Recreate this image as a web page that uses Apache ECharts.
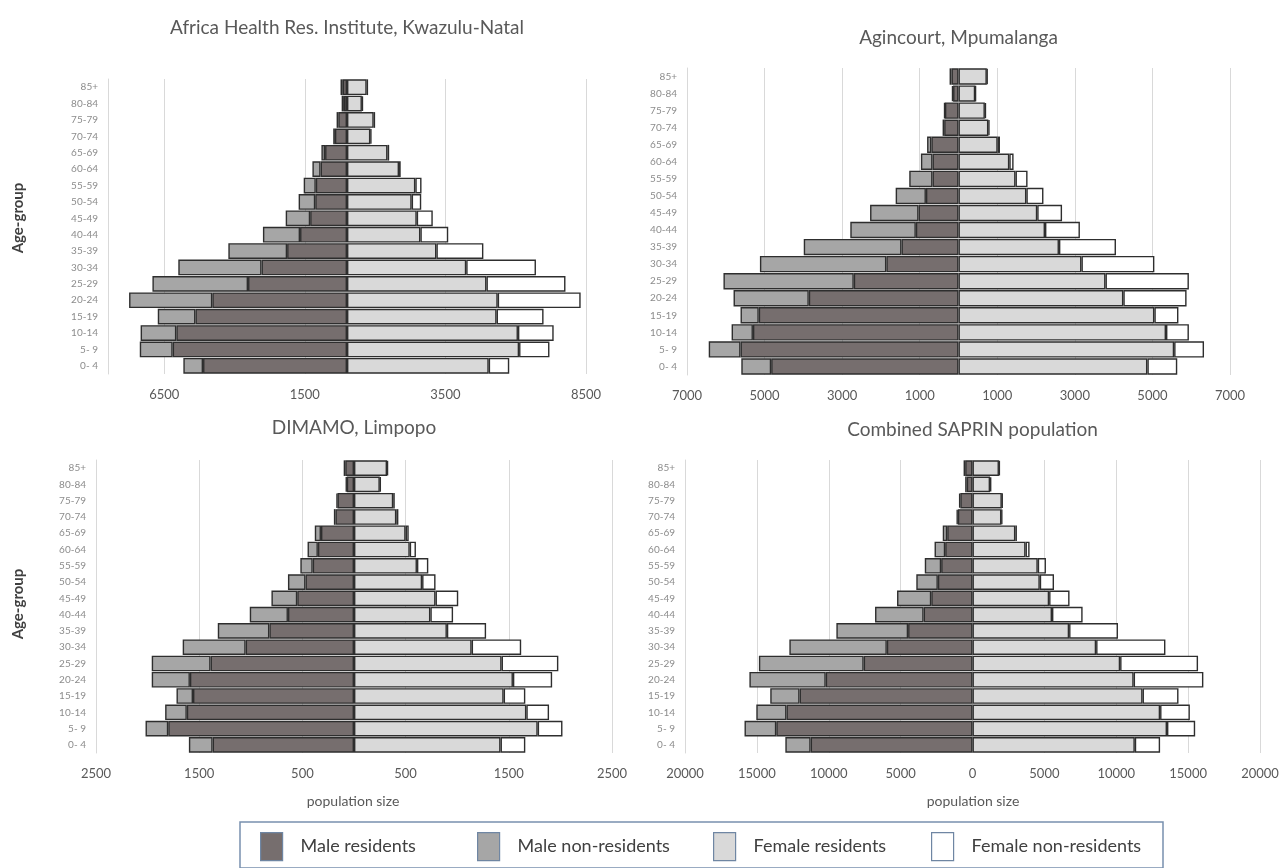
<!DOCTYPE html>
<html>
<head>
<meta charset="utf-8">
<script src="https://cdn.jsdelivr.net/npm/echarts@6/dist/echarts.min.js"></script>
<style>
html, body { margin: 0; padding: 0; background: #fff; }
#chart { width: 1287px; height: 868px; }
</style>
</head>
<body>
<div id="chart"></div>
<script>
// age groups, bottom to top
const ageGroups = ['0- 4', '5- 9', '10-14', '15-19', '20-24', '25-29', '30-34', '35-39', '40-44',
  '45-49', '50-54', '55-59', '60-64', '65-69', '70-74', '75-79', '80-84', '85+']

// Africa Health Res. Institute, Kwazulu-Natal
const ahriMaleRes = [5120, 6200, 6070, 5390, 4790, 3520, 3040, 2130, 1670, 1310, 1130, 1110, 940, 780, 430, 310, 110, 150]
const ahriMaleNonRes = [700, 1170, 1270, 1340, 2960, 3400, 2960, 2090, 1320, 870, 590, 430, 290, 130, 60, 60, 80, 80]
const ahriFemaleRes = [5040, 6120, 6080, 5320, 5360, 4960, 4240, 3180, 2610, 2480, 2300, 2430, 1850, 1440, 830, 950, 530, 700]
const ahriFemaleNonRes = [730, 1080, 1270, 1670, 2950, 2810, 2480, 1670, 990, 570, 340, 220, 60, 60, 40, 50, 40, 50]

// Agincourt, Mpumalanga
const agMaleRes = [4830, 5620, 5300, 5150, 3860, 2700, 1860, 1470, 1100, 1030, 840, 670, 670, 700, 370, 350, 140, 180]
const agMaleNonRes = [770, 820, 550, 470, 1940, 3360, 3260, 2520, 1690, 1250, 780, 600, 300, 110, 40, 20, 30, 50]
const agFemaleRes = [4870, 5560, 5350, 5050, 4250, 3790, 3170, 2590, 2230, 2030, 1750, 1470, 1310, 1010, 770, 680, 430, 730]
const agFemaleNonRes = [770, 770, 590, 620, 1630, 2150, 1880, 1470, 900, 640, 440, 310, 110, 60, 30, 30, 20, 20]

// DIMAMO, Limpopo
const dimMaleRes = [1370, 1800, 1620, 1560, 1590, 1390, 1050, 820, 640, 550, 470, 400, 350, 320, 180, 160, 70, 85]
const dimMaleNonRes = [230, 220, 210, 160, 370, 570, 610, 500, 370, 250, 170, 120, 100, 60, 15, 10, 10, 15]
const dimFemaleRes = [1420, 1780, 1670, 1450, 1540, 1430, 1140, 900, 740, 790, 660, 610, 540, 500, 410, 380, 250, 320]
const dimFemaleNonRes = [240, 240, 220, 210, 380, 550, 480, 380, 220, 220, 130, 110, 60, 30, 20, 15, 10, 10]

// Combined SAPRIN population
const allMaleRes = [11260, 13650, 12940, 12030, 10210, 7570, 5960, 4480, 3400, 2870, 2410, 2180, 1900, 1760, 1020, 850, 400, 510]
const allMaleNonRes = [1760, 2210, 2100, 2040, 5310, 7290, 6780, 4990, 3380, 2380, 1500, 1140, 740, 310, 90, 90, 110, 110]
const allFemaleRes = [11290, 13530, 13050, 11830, 11210, 10270, 8600, 6720, 5530, 5330, 4680, 4540, 3690, 2980, 2010, 2040, 1220, 1840]
const allFemaleNonRes = [1760, 1960, 2070, 2500, 4850, 5420, 4820, 3400, 2130, 1420, 990, 570, 280, 110, 60, 60, 90, 60]

// x tick labels of each panel
const ahriTicks = [-6500, -1500, 3500, 8500]
const agTicks = [-7000, -5000, -3000, -1000, 1000, 3000, 5000, 7000]
const dimTicks = [-2500, -1500, -500, 500, 1500, 2500]
const allTicks = [-20000, -15000, -10000, -5000, 0, 5000, 10000, 15000, 20000]

const font = 'Lato'

const panels = [
  { title: 'Africa Health Res. Institute, Kwazulu-Natal', mr: ahriMaleRes, mnr: ahriMaleNonRes, fr: ahriFemaleRes, fnr: ahriFemaleNonRes,
    ticks: ahriTicks, range: 8500, grid: { left: 108, top: 79, width: 478, height: 295 }, titleY: 28 },
  { title: 'Agincourt, Mpumalanga', mr: agMaleRes, mnr: agMaleNonRes, fr: agFemaleRes, fnr: agFemaleNonRes,
    ticks: agTicks, range: 7000, grid: { left: 687, top: 68, width: 543, height: 307 }, titleY: 38 },
  { title: 'DIMAMO, Limpopo', mr: dimMaleRes, mnr: dimMaleNonRes, fr: dimFemaleRes, fnr: dimFemaleNonRes,
    ticks: dimTicks, range: 2500, grid: { left: 96, top: 460, width: 516, height: 293 }, titleY: 428 },
  { title: 'Combined SAPRIN population', mr: allMaleRes, mnr: allMaleNonRes, fr: allFemaleRes, fnr: allFemaleNonRes,
    ticks: allTicks, range: 20000, grid: { left: 685, top: 460, width: 575, height: 293 }, titleY: 430 }
]

const seriesStyle = [
  { name: 'Male residents', color: '#766e6e', side: 'm', key: 'mr' },
  { name: 'Male non-residents', color: '#a6a6a6', side: 'm', key: 'mnr' },
  { name: 'Female residents', color: '#d9d9d9', side: 'f', key: 'fr' },
  { name: 'Female non-residents', color: '#ffffff', side: 'f', key: 'fnr' }
]

const chart = echarts.init(document.getElementById('chart'))

const grids = []
const xAxes = []
const yAxes = []
const titles = []
const series = []

panels.forEach((p, i) => {
  grids.push(p.grid)
  titles.push({
    text: p.title,
    left: p.grid.left + p.grid.width / 2,
    top: p.titleY - 12,
    padding: 0,
    textAlign: 'center',
    textStyle: { fontFamily: font, fontSize: 19, fontWeight: 'normal', color: '#595959', lineHeight: 24 }
  })
  xAxes.push({
    type: 'value',
    gridIndex: i,
    min: -p.range,
    max: p.range,
    axisLine: { show: false },
    axisTick: { show: false, customValues: p.ticks },
    splitLine: { show: true, lineStyle: { color: '#d9d9d9', width: 1 } },
    axisLabel: {
      customValues: p.ticks,
      formatter: v => String(Math.abs(v)),
      color: '#595959',
      fontFamily: font,
      fontSize: 13,
      margin: 14
    }
  })
  yAxes.push({
    type: 'category',
    gridIndex: i,
    data: ageGroups,
    axisLine: { onZero: false, lineStyle: { color: '#d9d9d9' } },
    axisTick: { show: false },
    axisLabel: { color: '#8c8c8c', fontFamily: font, fontSize: 10, margin: 10 }
  })
  seriesStyle.forEach(s => {
    const vals = p[s.key]
    series.push({
      name: s.name,
      type: 'bar',
      xAxisIndex: i,
      yAxisIndex: i,
      stack: s.side + i,
      barGap: '-100%',
      barCategoryGap: '4%',
      data: s.side === 'm' ? vals.map(v => -v) : vals,
      itemStyle: { color: s.color, borderColor: '#2e2e2e', borderWidth: 1.4 },
      emphasis: { disabled: true }
    })
  })
})

const legendX = [260, 477, 713, 931]
const legends = seriesStyle.map((s, i) => ({
  data: [s.name],
  left: legendX[i],
  top: 832,
  padding: 0,
  icon: 'rect',
  itemWidth: 22,
  itemHeight: 28,
  itemStyle: { borderColor: '#6f86a3', borderWidth: 1.2 },
  textStyle: { fontFamily: font, fontSize: 18, color: '#404040', padding: [0, 0, 0, 13] },
  selectedMode: false
}))

const option = {
  animation: false,
  backgroundColor: '#ffffff',
  title: titles,
  grid: grids,
  xAxis: xAxes,
  yAxis: yAxes,
  legend: legends,
  series: series,
  graphic: [
    { type: 'rect', shape: { x: 240, y: 822, width: 923, height: 46 }, style: { fill: 'none', stroke: '#7890ae', lineWidth: 1.5 } },
    { type: 'text', x: 18, y: 218, rotation: Math.PI / 2, style: { text: 'Age-group', fontFamily: font, fontSize: 15, fontWeight: 'bold', fill: '#404040', align: 'center', verticalAlign: 'middle' } },
    { type: 'text', x: 18, y: 604, rotation: Math.PI / 2, style: { text: 'Age-group', fontFamily: font, fontSize: 15, fontWeight: 'bold', fill: '#404040', align: 'center', verticalAlign: 'middle' } },
    { type: 'text', x: 353, y: 801, style: { text: 'population size', fontFamily: font, fontSize: 14, fill: '#595959', align: 'center', verticalAlign: 'middle' } },
    { type: 'text', x: 973, y: 801, style: { text: 'population size', fontFamily: font, fontSize: 14, fill: '#595959', align: 'center', verticalAlign: 'middle' } }
  ]
}

chart.setOption(option)
</script>
</body>
</html>
